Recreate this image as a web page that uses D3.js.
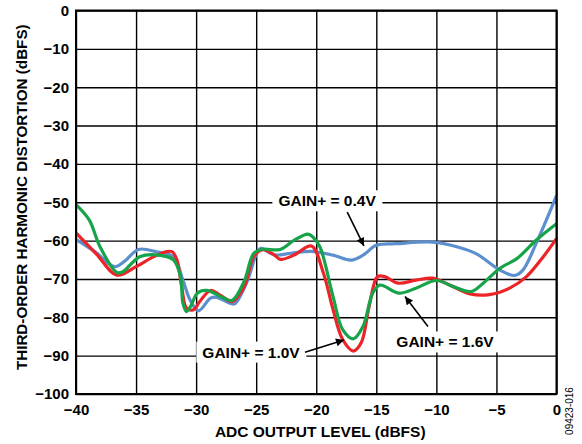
<!DOCTYPE html>
<html>
<head>
<meta charset="utf-8">
<script src="https://cdn.jsdelivr.net/npm/d3@7"></script>
<style>
  body { margin: 0; background: #fff; }
  svg { font-family: "Liberation Sans", Arial, sans-serif; font-weight: bold; }
</style>
</head>
<body>
<div id="graph"></div>
<script>
// ADC output level (dBFS) vs third-order harmonic distortion (dBFS)
var xTicks = [-40, -35, -30, -25, -20, -15, -10, -5, 0];
var yTicks = [0, -10, -20, -30, -40, -50, -60, -70, -80, -90, -100];

var gain04x = [-40, -38.3, -36.8, -36.0, -34.8, -33.3, -31.9, -31.1, -30.5, -29.8, -28.8, -28.3, -27.2, -26.8, -25.8, -24.9, -24.6, -23.5, -22.1, -20.4, -18.6, -17.1, -16.1, -15, -13.3, -10.3, -8.3, -6.7, -4.7, -3.5, -2.8, -1.7, 0];
var gain04y = [-59.7, -63.2, -66.8, -65.5, -62.3, -62.9, -64.2, -70.3, -75.5, -78.3, -75.0, -74.8, -76.3, -76.5, -71, -62.9, -62.0, -63.7, -63.3, -62.8, -63.8, -65.1, -63.8, -61.2, -60.8, -60.4, -61.6, -63.4, -67.7, -69.1, -67.7, -60.8, -48.3];

var gain10x = [-40, -38.3, -36.6, -35, -33.6, -32.5, -32, -31.6, -31.2, -30.8, -30.2, -29.7, -28.8, -28, -27, -26, -25.2, -24.5, -23.5, -23, -21.8, -20.4, -19.4, -18.6, -17.8, -16.9, -16.25, -15.6, -14.9, -14.3, -13.2, -11.7, -10.3, -8.9, -7.2, -5.6, -3.9, -2.5, -1.1, 0];
var gain10y = [-58, -63.5, -69, -66.8, -64.3, -62.9, -62.9, -65, -72, -77.6, -78, -75.9, -73, -74.2, -75.9, -72, -64.2, -62.4, -63.7, -64.9, -63.7, -61.4, -68.5, -78, -85.8, -88.8, -86.6, -77.2, -69.4, -69.4, -71.1, -70.3, -69.8, -71.6, -73.9, -74.1, -72.4, -69.4, -64.2, -59.5];

var gain16x = [-40, -38.9, -38, -36.6, -36.1, -34.7, -33.3, -31.9, -31.3, -31.1, -30.8, -30.4, -29.9, -29.1, -27.7, -27, -26, -25.2, -24.5, -23, -21.8, -20.7, -20.3, -19.7, -18.6, -17.8, -16.9, -16.1, -15.3, -14.7, -13.1, -11.7, -10, -8.6, -7.1, -6.1, -4.7, -3.3, -1.7, 0];
var gain16y = [-50.6, -54.6, -61.6, -68.3, -68.1, -64.2, -63.7, -65, -69.4, -76.3, -78.5, -76.8, -73.7, -73, -75, -75.6, -70.6, -63.3, -62.3, -62.3, -59.8, -58.3, -59, -61.6, -74.6, -83.2, -85.6, -82.3, -73.7, -71.6, -73.7, -72.4, -70.4, -72, -73.3, -71.1, -67.2, -64.7, -59.9, -55.6];

var series = [
  {name: "GAIN+ = 0.4V", color: "#5b8fcd", xs: gain04x, ys: gain04y},
  {name: "GAIN+ = 1.0V", color: "#ec2427", xs: gain10x, ys: gain10y},
  {name: "GAIN+ = 1.6V", color: "#17a34a", xs: gain16x, ys: gain16y}
];

// label centre, arrow start, arrow tip (data units)
var notes = [
  {text: "GAIN+ = 0.4V", lx: -19.1, ly: -49.6, x1: -17.42, y1: -52.6, x2: -16.03, y2: -61.4},
  {text: "GAIN+ = 1.0V", lx: -25.43, ly: -89.05, x1: -20.94, y1: -89.1, x2: -17.69, y2: -85.9},
  {text: "GAIN+ = 1.6V", lx: -9.28, ly: -86.4, x1: -10.7, y1: -82.4, x2: -12.61, y2: -74.6}
];

var W = 582, H = 444;
var padL = 76, padR = 556.5, padT = 10.5, padB = 394;

var vis = d3.select('#graph').append('svg')
  .attr("width", W)
  .attr("height", H);

var x = d3.scaleLinear().domain([-40, 0]).range([padL, padR]);
var y = d3.scaleLinear().domain([0, -100]).range([padT, padB]);

// grid
vis.append("g")
  .attr("transform", "translate(0," + padB + ")")
  .call(d3.axisBottom(x).tickValues(xTicks).tickSize(-(padB - padT)).tickFormat(""))
  .call(function(g) {
    g.select(".domain").remove();
    g.selectAll("line").attr("stroke", "#000").attr("stroke-width", 1.4);
  });
vis.append("g")
  .attr("transform", "translate(" + padL + ",0)")
  .call(d3.axisLeft(y).tickValues(yTicks).tickSize(-(padR - padL)).tickFormat(""))
  .call(function(g) {
    g.select(".domain").remove();
    g.selectAll("line").attr("stroke", "#000").attr("stroke-width", 1.4);
  });

// tick labels
vis.append("g")
  .attr("transform", "translate(0," + padB + ")")
  .call(d3.axisBottom(x).tickValues(xTicks).tickSize(0).tickPadding(10))
  .call(function(g) {
    g.select(".domain").remove();
    g.selectAll("text").attr("font-size", 15).attr("font-weight", "bold")
      .attr("font-family", "Liberation Sans, Arial, sans-serif").attr("fill", "#000");
  });
vis.append("g")
  .attr("transform", "translate(" + padL + ",0)")
  .call(d3.axisLeft(y).tickValues(yTicks).tickSize(0).tickPadding(7))
  .call(function(g) {
    g.select(".domain").remove();
    g.selectAll("text").attr("font-size", 15).attr("font-weight", "bold")
      .attr("font-family", "Liberation Sans, Arial, sans-serif").attr("fill", "#000");
  });

// curves
var line = d3.line()
  .x(function(d) { return x(d[0]); })
  .y(function(d) { return y(d[1]); })
  .curve(d3.curveCatmullRom.alpha(0.5));

vis.selectAll("path.curve")
  .data(series)
  .enter()
  .append("path")
  .attr("class", "curve")
  .attr("fill", "none")
  .attr("stroke", function(d) { return d.color; })
  .attr("stroke-width", 3.2)
  .attr("stroke-linejoin", "round")
  .attr("d", function(d) { return line(d3.zip(d.xs, d.ys)); });

// frame
vis.append("rect")
  .attr("x", padL).attr("y", padT)
  .attr("width", padR - padL).attr("height", padB - padT)
  .attr("fill", "none").attr("stroke", "#000").attr("stroke-width", 2);

// annotations
vis.append("defs").append("marker")
  .attr("id", "head")
  .attr("viewBox", "0 0 10 10")
  .attr("refX", 10).attr("refY", 5)
  .attr("markerWidth", 9).attr("markerHeight", 5)
  .attr("markerUnits", "strokeWidth")
  .attr("orient", "auto")
  .append("path").attr("d", "M0,0L10,5L0,10Z").attr("fill", "#000");

var note = vis.selectAll("g.note")
  .data(notes)
  .enter().append("g")
  .attr("class", "note");

note.append("text")
  .attr("x", function(d) { return x(d.lx); })
  .attr("y", function(d) { return y(d.ly); })
  .attr("text-anchor", "middle")
  .attr("dy", "0.36em")
  .attr("font-size", 15.5)
  .text(function(d) { return d.text; })
  .each(function() {
    var b = this.getBBox();
    d3.select(this.parentNode).insert("rect", "text")
      .attr("x", b.x - 6).attr("y", b.y - 2)
      .attr("width", b.width + 12).attr("height", b.height + 4)
      .attr("fill", "#fff");
  });

note.append("line")
  .attr("x1", function(d) { return x(d.x1); })
  .attr("y1", function(d) { return y(d.y1); })
  .attr("x2", function(d) { return x(d.x2); })
  .attr("y2", function(d) { return y(d.y2); })
  .attr("stroke", "#000")
  .attr("stroke-width", 1.6)
  .attr("marker-end", "url(#head)");

// axis titles
vis.append("text")
  .attr("x", (padL + padR) / 2 + 4)
  .attr("y", 437)
  .attr("text-anchor", "middle")
  .attr("font-size", 15.5)
  .text("ADC OUTPUT LEVEL (dBFS)");

vis.append("text")
  .attr("transform", "translate(27," + ((padT + padB) / 2 - 5) + ") rotate(-90)")
  .attr("text-anchor", "middle")
  .attr("font-size", 15.2)
  .text("THIRD-ORDER HARMONIC DISTORTION (dBFS)");

vis.append("text")
  .attr("transform", "translate(573,411) rotate(-90)")
  .attr("text-anchor", "middle")
  .attr("font-size", 10)
  .attr("font-weight", "normal")
  .text("09423-016");
</script>
</body>
</html>
